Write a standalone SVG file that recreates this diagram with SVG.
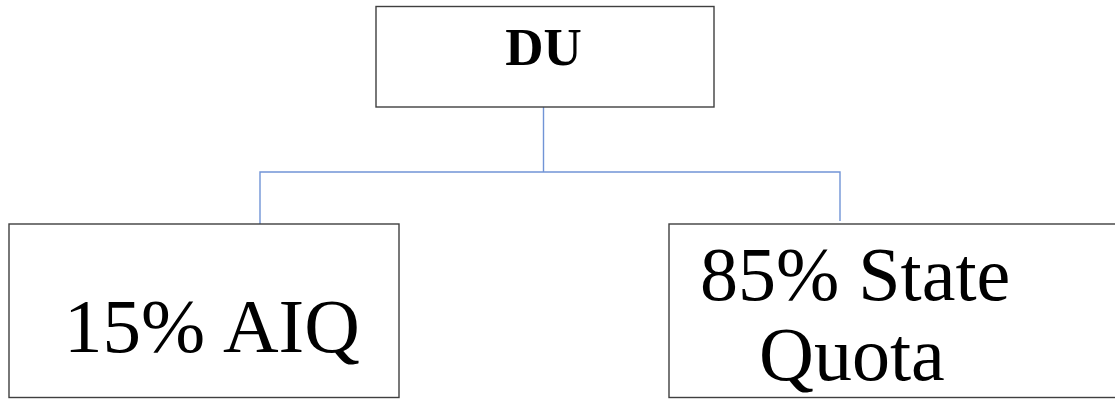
<svg xmlns="http://www.w3.org/2000/svg" width="1115" height="399" viewBox="0 0 1115 399">
<style>
.box{fill:#ffffff;stroke:#3f3f3f;stroke-width:1.4}
.lbl{font-family:"Liberation Serif","Times New Roman",serif;fill:#000000}
.conn{fill:none;stroke:#7194d6;stroke-width:1.4}
</style>
<rect width="1115" height="399" fill="#ffffff"/>
<g id="connectors">
<path class="conn" d="M543.5 107 V172 M260 226 V172 H840 V221"/>
</g>
<g id="node-du">
<rect class="box" x="376" y="6.5" width="338" height="100.5"/>
<text class="lbl" x="543.5" y="65" font-size="53" font-weight="bold" text-anchor="middle">DU</text>
</g>
<g id="node-aiq">
<rect class="box" x="9" y="224" width="390" height="173.5"/>
<text class="lbl" font-size="77"><tspan x="64" y="352">15%</tspan><tspan x="223" y="352">AIQ</tspan></text>
</g>
<g id="node-state">
<rect class="box" x="669" y="224" width="460" height="173.5"/>
<text class="lbl" font-size="76"><tspan x="700" y="300">85% State</tspan><tspan x="759" y="380">Quota</tspan></text>
</g>
</svg>
